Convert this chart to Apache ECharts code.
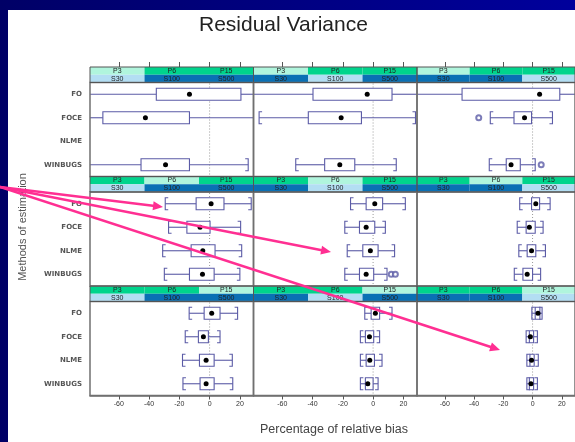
<!DOCTYPE html>
<html>
<head>
<meta charset="utf-8">
<script src="https://cdn.jsdelivr.net/npm/echarts@6/dist/echarts.min.js"></script>
<style>
  html, body { margin:0; padding:0; width:575px; height:442px; overflow:hidden;
    background: linear-gradient(to right, #000066, #00009c); }
  #white { position:absolute; left:8px; top:10px; right:0; bottom:0; background:#ffffff; }
  #chart { position:absolute; left:0; top:0; width:575px; height:442px; }
</style>
</head>
<body>
<div id="white"></div>
<div id="chart"></div>
<script>
// ---------------- data ----------------
const methods = ['FO', 'FOCE', 'NLME', 'WINBUGS'];
const pLevels = ['P3', 'P6', 'P15'];
const sLevels = ['S30', 'S100', 'S500'];
const xTicks = [-60, -40, -20, 0, 20];
const xMin = -79, xMax = 29;

// [method index, lower whisker, Q1, median, Q3, upper whisker]
const box_P3_S30   = [[0,-95,-35.2,-13.3,20.7,45],[1,-95,-70.5,-42.4,-13.3,45],[3,-95,-45.3,-29.1,-13.3,25.5]];
const box_P3_S100  = [[0,-95,-39.7,-3.9,12.5,45],[1,-75.3,-42.8,-21.1,-7.7,28],[3,-51.1,-32,-22,-12.1,15.3]];
const box_P3_S500  = [[0,-95,-48.2,4.8,18.6,45],[1,-28.9,-12.7,-5.5,-0.7,13.6],[3,-29.6,-18,-14.7,-8.4,1.8]];
const box_P6_S30   = [[0,-29.3,-8.9,1.0,9.5,27.5],[1,-27.1,-15,-6.3,0.3,20.5],[2,-31,-12.2,-4.5,3.6,21.2],[3,-29.9,-13.3,-4.7,3,20]];
const box_P6_S100  = [[0,-14.9,-4.6,1.1,6.3,21.3],[1,-18.7,-9,-4.6,1.1,8.1],[2,-17.1,-6.8,-1.8,3.3,14.2],[3,-18.7,-9,-4.6,0.4,9.2]];
const box_P6_S500  = [[0,-8.8,-0.7,2.2,4.8,12],[1,-10.5,-4.4,-2.2,1.8,7.2],[2,-9.4,-3.7,-0.7,2.2,8.8],[3,-12.5,-6.6,-3.7,0,5.5]];
const box_P15_S30  = [[0,-13.5,-3.6,1.4,6.9,18.5],[1,-16.1,-7.4,-4.1,-0.8,6.9],[2,-17.9,-6.7,-2.3,3,15],[3,-17.6,-6.3,-2.3,3,15.3]];
const box_P15_S100 = [[0,-5.5,-1.3,1.5,4.3,12.5],[1,-8.4,-5.1,-2.4,0.4,4.3],[2,-8.4,-4.6,-2.2,0.9,5.9],[3,-8.4,-5.1,-3.5,0,3.3]];
const box_P15_S500 = [[0,-0.5,1.8,3.7,5,6.5],[1,-4.4,-2.2,-1.5,0.7,3.3],[2,-3.9,-1.8,-0.7,1.1,3.9],[3,-3.9,-2.2,-1.1,0.7,3.3]];

// outliers: [method index, value]
const out_P3_S500 = [[1,-36.8],[3,5.9]];
const out_P6_S100 = [[3,12],[3,14.7]];

const boxes = [
  [box_P3_S30, box_P3_S100, box_P3_S500],
  [box_P6_S30, box_P6_S100, box_P6_S500],
  [box_P15_S30, box_P15_S100, box_P15_S500]
];
const outliers = [
  [[], [], out_P3_S500],
  [[], out_P6_S100, []],
  [[], [], []]
];

// ---------------- layout / style ----------------
const colLeft = [90, 253.5, 417];
const panelW = 163.5;
const rowStep = 109.5, stripTop0 = 67, stripH = 15.5, panelH = 94;
const boxColor = '#5b5ba6';
const stripPale = '#b0f5dd', stripGreen = '#00d48c';
const stripLightBlue = '#b3def3', stripDarkBlue = '#0a70b4';

function renderRef(params, api) {
  const cs = params.coordSys;
  const x = api.coord([api.value(0), 0])[0];
  return { type: 'line', shape: { x1: x, y1: cs.y + 1, x2: x, y2: cs.y + cs.height - 1 },
           style: { stroke: '#9a9a9a', lineWidth: 1, lineDash: [1, 2] } };
}

function renderBox(params, api) {
  const cs = params.coordSys;
  const ci = api.value(0);
  const y = api.coord([0, ci])[1];
  const px = v => api.coord([v, ci])[0];
  const xl = px(api.value(1)), x1 = px(api.value(2)), xm = px(api.value(3)),
        x3 = px(api.value(4)), xh = px(api.value(5));
  const L = cs.x, R = cs.x + cs.width;
  const cl = v => Math.max(L, Math.min(R, v));
  const h = 6, arm = 3;
  const st = { stroke: boxColor, lineWidth: 1.1, fill: null };
  const ch = [];
  ch.push({ type: 'line', shape: { x1: cl(xl), y1: y, x2: cl(x1), y2: y }, style: st });
  ch.push({ type: 'line', shape: { x1: cl(x3), y1: y, x2: cl(xh), y2: y }, style: st });
  if (xl >= L) ch.push({ type: 'polyline', shape: { points: [[xl + arm, y - h], [xl, y - h], [xl, y + h], [xl + arm, y + h]] }, style: st });
  if (xh <= R) ch.push({ type: 'polyline', shape: { points: [[xh - arm, y - h], [xh, y - h], [xh, y + h], [xh - arm, y + h]] }, style: st });
  ch.push({ type: 'rect', shape: { x: cl(x1), y: y - h, width: cl(x3) - cl(x1), height: 2 * h },
            style: { fill: '#ffffff', stroke: boxColor, lineWidth: 1.1 } });
  ch.push({ type: 'circle', shape: { cx: xm, cy: y, r: 2.5 }, style: { fill: '#000000' } });
  return { type: 'group', children: ch };
}

function makeStripRenderer(r, c) {
  return function (params, api) {
    const lvl = api.value(0), row = api.value(1);
    const xa = api.coord([lvl, row])[0], xb = api.coord([lvl + 1, row])[0];
    const yc = api.coord([0, row])[1];
    const bh = api.size([0, 1])[1];
    const hi = row === 0 ? (lvl === r) : (lvl === c);
    const fill = row === 0 ? (hi ? stripPale : stripGreen) : (hi ? stripLightBlue : stripDarkBlue);
    const label = row === 0 ? pLevels[lvl] : sLevels[lvl];
    return { type: 'group', children: [
      { type: 'rect', shape: { x: xa, y: yc - bh / 2, width: xb - xa, height: bh }, style: { fill: fill } },
      { type: 'text', x: (xa + xb) / 2, y: yc, style: { text: label, fill: '#222',
          font: '7px "Liberation Sans", Arial, sans-serif', align: 'center', verticalAlign: 'middle',
          textAlign: 'center', textVerticalAlign: 'middle' } }
    ] };
  };
}

const grids = [], xAxes = [], yAxes = [], series = [];
for (let r = 0; r < 3; r++) {
  for (let c = 0; c < 3; c++) {
    const sTop = stripTop0 + r * rowStep;
    const pTop = sTop + stripH;
    // panel
    const gi = grids.length;
    grids.push({ left: colLeft[c], top: pTop, width: panelW, height: panelH, show: true,
                 borderColor: '#707070', borderWidth: 1.5, backgroundColor: 'transparent', z: 10 });
    const xi = xAxes.length;
    xAxes.push({ type: 'value', gridIndex: gi, min: xMin, max: xMax, position: 'bottom',
      axisLine: { show: r === 2, lineStyle: { color: '#707070', width: 1.5 } },
      axisTick: { show: r === 2, length: 4, customValues: xTicks, lineStyle: { color: '#555' } },
      axisLabel: { show: r === 2, customValues: xTicks, fontSize: 7, color: '#333', margin: 5,
                   fontFamily: '"Liberation Sans", Arial, sans-serif' },
      splitLine: { show: false } });
    const yi = yAxes.length;
    yAxes.push({ type: 'category', gridIndex: gi, data: methods, inverse: true,
      axisLine: { show: false }, axisTick: { show: false }, splitLine: { show: false },
      axisLabel: { show: c === 0, fontSize: 7, fontWeight: 'bold', color: '#555', margin: 8,
                   fontFamily: '"DejaVu Sans", sans-serif' } });
    series.push({ type: 'custom', xAxisIndex: xi, yAxisIndex: yi, data: [[0]], encode: { x: 0 },
                  renderItem: renderRef, silent: true, z: 1 });
    series.push({ type: 'custom', xAxisIndex: xi, yAxisIndex: yi, data: boxes[r][c],
                  encode: { x: [1, 2, 3, 4, 5], y: 0 }, renderItem: renderBox, silent: true, z: 3 });
    if (outliers[r][c].length) {
      series.push({ type: 'scatter', xAxisIndex: xi, yAxisIndex: yi,
        data: outliers[r][c].map(o => [o[1], o[0]]), symbol: 'emptyCircle', symbolSize: 5,
        itemStyle: { color: boxColor, borderColor: boxColor, borderWidth: 1 }, silent: true, z: 4 });
    }
    // strip
    const sg = grids.length;
    grids.push({ left: colLeft[c], top: sTop, width: panelW, height: stripH, show: true,
                 borderColor: '#555', borderWidth: 1, backgroundColor: 'transparent', z: 10 });
    const sxi = xAxes.length;
    xAxes.push({ type: 'value', gridIndex: sg, min: 0, max: 3, show: false });
    const syi = yAxes.length;
    yAxes.push({ type: 'category', gridIndex: sg, data: ['P', 'S'], inverse: true, show: false });
    const stripData = [];
    for (let row = 0; row < 2; row++) for (let l = 0; l < 3; l++) stripData.push([l, row]);
    series.push({ type: 'custom', xAxisIndex: sxi, yAxisIndex: syi, data: stripData,
                  encode: { x: 0, y: 1 }, renderItem: makeStripRenderer(r, c), silent: true, z: 2 });
    if (r === 0) {
      xAxes.push({ type: 'value', gridIndex: sg, min: xMin, max: xMax, position: 'top',
        axisLine: { show: false },
        axisTick: { show: true, length: 5, customValues: xTicks, lineStyle: { color: '#555' } },
        axisLabel: { show: false }, splitLine: { show: false } });
    }
  }
}

// annotation arrows (slide overlay)
const arrowFrom = [0, 187];
const arrowTargets = [[163, 207], [331, 252], [500, 350]];
const arrowGraphics = [];
arrowTargets.forEach(t => {
  const dx = t[0] - arrowFrom[0], dy = t[1] - arrowFrom[1];
  const len = Math.sqrt(dx * dx + dy * dy), ux = dx / len, uy = dy / len;
  const hl = 10, hw = 4.5;
  const bx = t[0] - ux * hl, by = t[1] - uy * hl;
  arrowGraphics.push({ type: 'line', z: 100, silent: true,
    shape: { x1: arrowFrom[0], y1: arrowFrom[1], x2: bx + ux * 2, y2: by + uy * 2 },
    style: { stroke: '#ff2f92', lineWidth: 2.6 } });
  arrowGraphics.push({ type: 'polygon', z: 100, silent: true,
    shape: { points: [[t[0], t[1]], [bx - uy * hw, by + ux * hw], [bx + uy * hw, by - ux * hw]] },
    style: { fill: '#ff2f92' } });
});

const chart = echarts.init(document.getElementById('chart'), null, { renderer: 'canvas' });
chart.setOption({
  backgroundColor: 'transparent',
  animation: false,
  title: { text: 'Residual Variance', left: 199, top: 15, padding: 0,
    textStyle: { fontSize: 21, fontWeight: 'normal', color: '#222', fontFamily: '"Liberation Sans", Arial, sans-serif' } },
  grid: grids,
  xAxis: xAxes,
  yAxis: yAxes,
  series: series,
  graphic: [
    { type: 'text', x: 334, y: 430, silent: true,
      style: { text: 'Percentage of relative bias', fill: '#444', font: '12.5px "Liberation Sans", Arial, sans-serif',
               align: 'center', verticalAlign: 'middle', textAlign: 'center', textVerticalAlign: 'middle' } },
    { type: 'text', x: 23, y: 227, rotation: Math.PI / 2, silent: true,
      style: { text: 'Methods of estimation', fill: '#555', font: '11px "Liberation Sans", Arial, sans-serif',
               align: 'center', verticalAlign: 'middle', textAlign: 'center', textVerticalAlign: 'middle' } }
  ].concat(arrowGraphics)
});
</script>
</body>
</html>
